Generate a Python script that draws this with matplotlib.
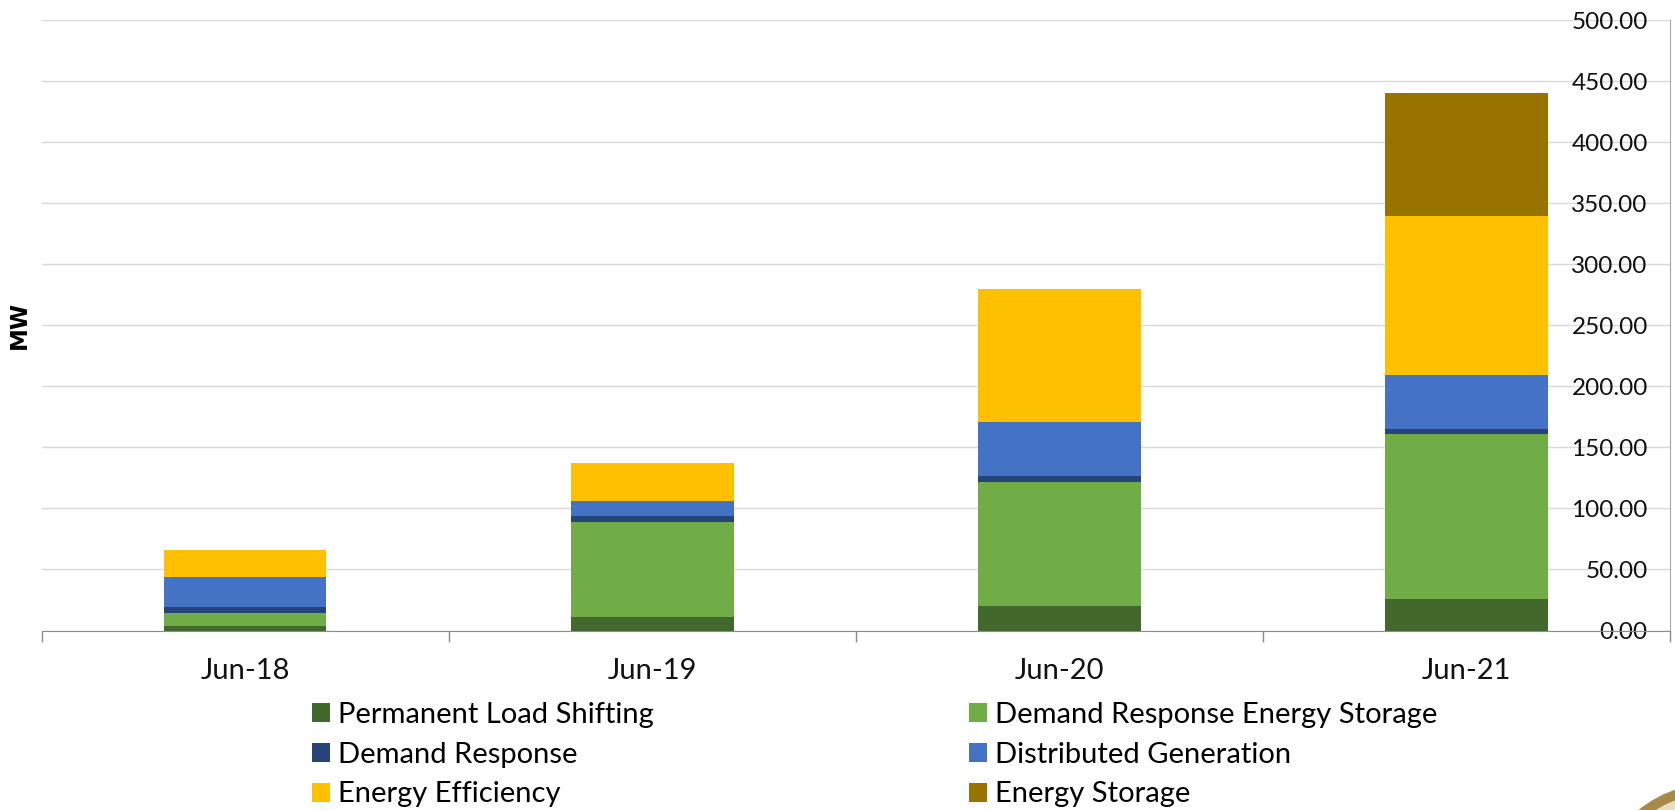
"""Stacked MW by resource type, Jun-18 to Jun-21."""
import matplotlib
matplotlib.use("Agg")
import matplotlib.pyplot as plt
from matplotlib.patches import Circle
from matplotlib.transforms import IdentityTransform
import numpy as np

plt.rcParams["font.family"] = ["Lato", "DejaVu Sans"]

W, H = 1675, 810

categories = ["Jun-18", "Jun-19", "Jun-20", "Jun-21"]
series_names = [
    "Permanent Load Shifting",
    "Demand Response Energy Storage",
    "Demand Response",
    "Distributed Generation",
    "Energy Efficiency",
    "Energy Storage",
]
permanent_load_shifting = [3.6, 10.9, 19.9, 25.4]
dr_energy_storage = [10.6, 77.6, 101.7, 135.3]
demand_response = [5.2, 5.2, 4.9, 4.6]
distributed_generation = [24.6, 12.0, 44.2, 44.2]
energy_efficiency = [21.6, 31.7, 108.8, 130.1]
energy_storage = [0.0, 0.0, 0.0, 100.6]
colors = ["#43682B", "#70AD47", "#264478", "#4472C4", "#FFC000", "#997300"]
y_ticks = [0, 50, 100, 150, 200, 250, 300, 350, 400, 450, 500]

fig = plt.figure(figsize=(W / 100, H / 100), dpi=100, facecolor="white")
ax = fig.add_axes([41.5 / W, 1 - 630.5 / H, (1670 - 41.5) / W, (630.5 - 20.2) / H])

x = np.arange(len(categories))
bottom = np.zeros(len(categories))
all_series = [permanent_load_shifting, dr_energy_storage, demand_response,
              distributed_generation, energy_efficiency, energy_storage]
handles = []
for values, name, color in zip(all_series, series_names, colors):
    bars = ax.bar(x, values, 0.4, bottom=bottom, color=color, label=name, zorder=3)
    handles.append(bars)
    bottom += np.array(values)

ax.set_xlim(-0.5, 3.5)
ax.set_ylim(0, 500)
ax.set_axisbelow(True)
ax.grid(axis="y", color="#D9D9D9", linewidth=1.0)

# y axis labels sit inside the plot, left of the right-hand line
ax.yaxis.tick_right()
ax.set_yticks(y_ticks)
ax.set_yticklabels([f"{v:.2f}" for v in y_ticks], ha="right", fontsize=17.5, color="#111111")
ax.tick_params(axis="y", length=0, pad=-16)
for lab in ax.get_yticklabels():
    lab.set_zorder(5)

# category labels between the tick marks
ax.set_xticks(np.arange(-0.5, 4, 1))
ax.set_xticklabels([])
ax.set_xticks(x, minor=True)
ax.set_xticklabels(categories, minor=True, fontsize=21, color="#111111")
ax.tick_params(axis="x", which="major", length=8, width=1.0, color="#8C8C8C")
ax.tick_params(axis="x", which="minor", length=0, pad=20)

ax.yaxis.set_label_position("left")
ax.set_ylabel("MW", fontsize=16.5, fontweight="bold", family="DejaVu Sans")
ax.yaxis.set_label_coords(-0.0064, 0.5)

for side in ("top", "left"):
    ax.spines[side].set_visible(False)
ax.spines["bottom"].set_color("#8C8C8C")
ax.spines["right"].set_color("#A6A6A6")

order = [0, 2, 4, 1, 3, 5]
leg = fig.legend(
    [handles[i] for i in order], [series_names[i] for i in order],
    ncol=2, loc="upper left", bbox_to_anchor=(312 / W, 1 - 702 / H),
    frameon=False, fontsize=21, borderpad=0, borderaxespad=0,
    handlelength=0.62, handleheight=0.62, handletextpad=0.27,
    labelspacing=0.47, columnspacing=10.8,
)

# corner of the seal, mostly cut off by the page edge
px = IdentityTransform()
fig.add_artist(Circle((1715, H - 905), 122, transform=px, facecolor="#A8894A", edgecolor="none"))
fig.add_artist(Circle((1715, H - 905), 112, transform=px, facecolor="#E8DDBE", edgecolor="none"))

fig.savefig("out.png", dpi=100, facecolor="white")
plt.close(fig)
